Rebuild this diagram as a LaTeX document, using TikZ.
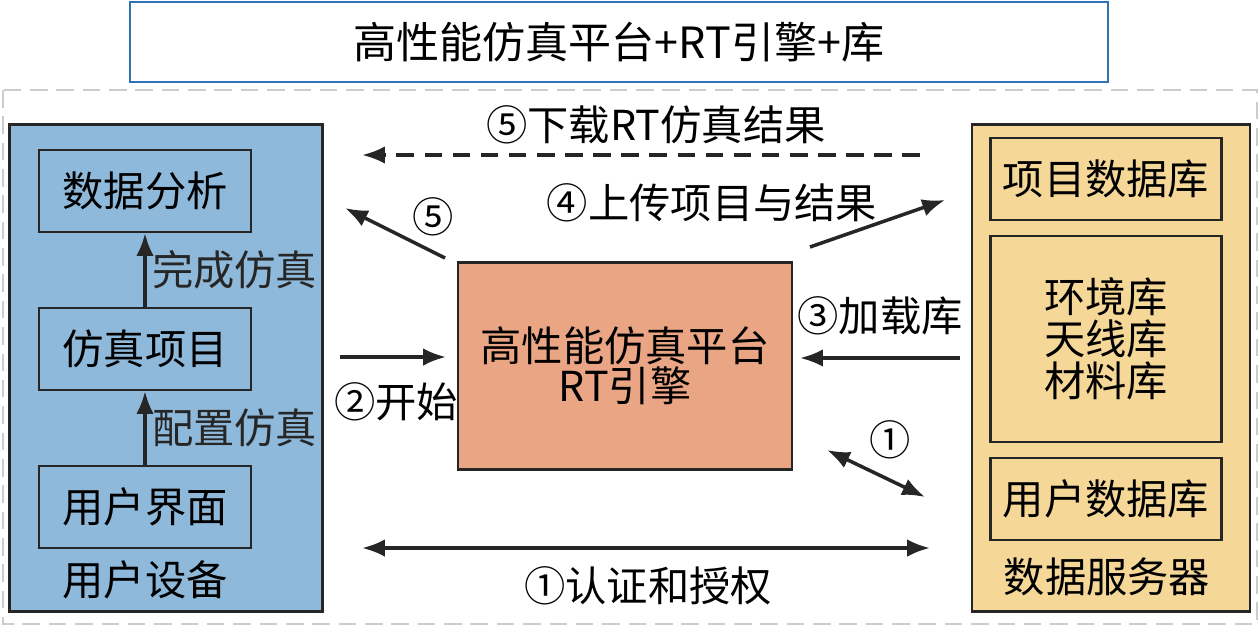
\documentclass[tikz,border=0pt]{standalone}
\usepackage{fontspec}
\setmainfont{Noto Sans CJK SC}
\usetikzlibrary{arrows.meta}
\definecolor{userblue}{RGB}{143,185,218}
\definecolor{coreorange}{RGB}{233,165,132}
\definecolor{dbyellow}{RGB}{245,216,152}
\definecolor{titleblue}{RGB}{46,117,182}
\definecolor{framegray}{RGB}{205,205,205}
\tikzset{
  box/.style={draw=black!85,line width=1.3pt,inner sep=0pt,font=\fontsize{23.5}{23}\selectfont},
  lbl/.style={inner sep=0pt,font=\fontsize{23.5}{26}\selectfont},
  flow/.style={-{Latex[length=13pt,width=10pt]},line width=2pt,black!85},
  dflow/.style={{Latex[length=13pt,width=10pt]}-{Latex[length=13pt,width=10pt]},line width=2pt,black!85}
}
\begin{document}
\begin{tikzpicture}[x=0.02cm,y=-0.02cm]
      \useasboundingbox (0,0) rectangle (1260,627);

      % title and outer frame
      \node[box,draw=titleblue,minimum width=19.56cm,minimum height=1.6cm,font=\fontsize{24.5}{26}\selectfont] (title) at (619,42) {高性能仿真平台+RT引擎+库};
      \draw[framegray,line width=1.5pt,dash pattern=on 10pt off 5pt] (3,90) rectangle (1257,624);

      % user device
      \node[box,fill=userblue,minimum width=6.26cm,minimum height=9.74cm] (user) at (166,368) {};
      \node[box,fill=userblue,minimum width=4.24cm,minimum height=1.64cm] (ana) at (145,191) {数据分析};
      \node[box,fill=userblue,minimum width=4.24cm,minimum height=1.64cm] (proj) at (145,349) {仿真项目};
      \node[box,fill=userblue,minimum width=4.24cm,minimum height=1.64cm] (ui) at (145,507) {用户界面};
      \node[lbl] (userlbl) at (145,580) {用户设备};
      \draw[flow] (ui) -- (proj) node[lbl,midway,right=3pt] {配置仿真};
      \draw[flow] (proj) -- (ana) node[lbl,midway,right=3pt] {完成仿真};

      % platform
      \node[box,fill=coreorange,minimum width=6.68cm,minimum height=4.14cm,align=center] (core) at (625,366) {高性能仿真平台\\RT引擎};

      % data server
      \node[box,fill=dbyellow,minimum width=5.56cm,minimum height=9.74cm] (srv) at (1111,368) {};
      \node[box,fill=dbyellow,minimum width=4.62cm,minimum height=1.64cm] (projdb) at (1106,179) {项目数据库};
      \node[box,fill=dbyellow,minimum width=4.62cm,minimum height=4.12cm,align=center,font=\fontsize{23.5}{24}\selectfont] (libs) at (1106,339) {环境库\\天线库\\材料库};
      \node[box,fill=dbyellow,minimum width=4.62cm,minimum height=1.64cm] (userdb) at (1106,499) {用户数据库};
      \node[lbl] (srvlbl) at (1107,577) {数据服务器};

      % connectors
      \coordinate (dlA) at (920,155);
      \coordinate (dlB) at (362,155);
      \draw[flow,dash pattern=on 10pt off 6pt] (dlA) -- (dlB);
      \node[lbl] (dllbl) at (656,125) {⑤下载RT仿真结果};

      \coordinate (r5A) at (445,258);
      \coordinate (r5B) at (345,208);
      \draw[flow] (r5A) -- (r5B);
      \node[lbl] (r5lbl) at (433,217) {⑤};

      \coordinate (upA) at (810,247);
      \coordinate (upB) at (945,200);
      \draw[flow] (upA) -- (upB);
      \node[lbl] (uplbl) at (712,203) {④上传项目与结果};

      \coordinate (ldA) at (960,358);
      \coordinate (ldB) at (800,358);
      \draw[flow] (ldA) -- (ldB);
      \node[lbl] (ldlbl) at (880,316) {③加载库};

      \coordinate (stA) at (340,357);
      \coordinate (stB) at (446,357);
      \draw[flow] (stA) -- (stB);
      \node[lbl] (stlbl) at (396,402) {②开始};

      \coordinate (auA) at (827,450);
      \coordinate (auB) at (925,497);
      \draw[dflow] (auA) -- (auB);
      \node[lbl] (aulbl) at (890,440) {①};

      \coordinate (cfA) at (362,548);
      \coordinate (cfB) at (930,548);
      \draw[dflow] (cfA) -- (cfB);
      \node[lbl] (cflbl) at (648,586) {①认证和授权};
\end{tikzpicture}
\end{document}
